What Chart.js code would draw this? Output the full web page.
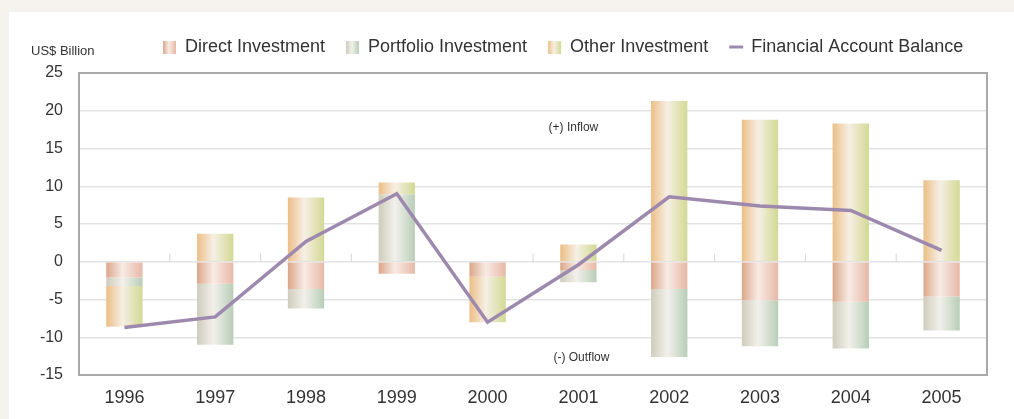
<!DOCTYPE html>
<html>
<head>
<meta charset="utf-8">
<script src="https://cdn.jsdelivr.net/npm/chart.js@4/dist/chart.umd.min.js"></script>
<style>
    html, body { margin: 0; padding: 0; background: #f6f3ee; }
    .panel { position: absolute; left: 9px; top: 12px; width: 1005px; height: 407px; background: #fff; }
</style>
</head>
<body>
<div class="panel"><canvas id="chartCuentaFinanciera"></canvas></div>
<script>
const anios = ["1996", "1997", "1998", "1999", "2000", "2001", "2002", "2003", "2004", "2005"];
const inversionDirecta = [-2.1, -2.9, -3.6, -1.6, -2.0, -1.1, -3.6, -5.1, -5.3, -4.6];
const inversionCartera = [-1.1, -8.1, -2.6, 8.9, 0, -1.6, -9.0, -6.1, -6.2, -4.5];
const otraInversion = [-5.4, 3.7, 8.5, 1.6, -6.0, 2.3, 21.3, 18.8, 18.3, 10.8];
const balanceCuenta = [-8.7, -7.3, 2.7, 9.0, -8.0, -0.4, 8.6, 7.4, 6.8, 1.5];
const ticksY = [25, 20, 15, 10, 5, 0, -5, -10, -15];

const FUENTE = '"Liberation Sans", Arial, sans-serif';
const ANCHO_BARRA = 0.4;

// degradados horizontales de cada serie: izquierda, centro, derecha
const degradados = {
    directa: ["#dca689", "#f7ebe5", "#e8b8a6"],
    cartera: ["#cfccbc", "#f2f0ea", "#b8ceb8"],
    otra: ["#ecbe86", "#f6efe5", "#d2d993"]
};
const colorLinea = "#9d89ad";

function rellenoBarra(stops) {
    return (c) => {
        const chart = c.chart;
        const xs = chart.scales.x;
        if (!xs || c.dataIndex === undefined) return stops[1];
        const cx = xs.getPixelForValue(c.dataIndex);
        const mitad = xs.width / anios.length * ANCHO_BARRA / 2;
        // la escala aun no tiene medidas en la primera pasada
        if (!isFinite(cx) || !isFinite(mitad) || mitad <= 0) return stops[1];
        const g = chart.ctx.createLinearGradient(cx - mitad, 0, cx + mitad, 0);
        g.addColorStop(0, stops[0]);
        g.addColorStop(0.45, stops[1]);
        g.addColorStop(1, stops[2]);
        return g;
    };
}

// marco del area, marcas sobre el cero y textos de flujo
const pluginMarco = {
    id: "marco",
    beforeDatasetsDraw(chart) {
        const { ctx, chartArea: a, scales } = chart;
        ctx.save();
        ctx.strokeStyle = "#d6d6d6";
        ctx.lineWidth = 1;
        const y0 = scales.y.getPixelForValue(0);
        for (let i = 1; i < anios.length; i++) {
            const x = (scales.x.getPixelForValue(i - 1) + scales.x.getPixelForValue(i)) / 2;
            ctx.beginPath();
            ctx.moveTo(x, y0 - 8);
            ctx.lineTo(x, y0);
            ctx.stroke();
        }
        ctx.strokeStyle = "#a9a9a9";
        ctx.lineWidth = 2;
        ctx.strokeRect(a.left, a.top, a.right - a.left, a.bottom - a.top);

        ctx.fillStyle = "#333";
        ctx.font = "12px " + FUENTE;
        ctx.textAlign = "center";
        ctx.textBaseline = "middle";
        const xm = scales.x.getPixelForValue(5);
        ctx.fillText("(+) Inflow", xm - 5, scales.y.getPixelForValue(17.8));
        ctx.fillText("(-) Outflow", xm + 3, scales.y.getPixelForValue(-12.7));
        ctx.restore();
    }
};

// leyenda dibujada a mano para poder usar los degradados en los cuadros
const pluginLeyenda = {
    id: "leyendaPropia",
    afterDraw(chart) {
        const ctx = chart.ctx;
        ctx.save();
        ctx.fillStyle = "#333";
        ctx.font = "13px " + FUENTE;
        ctx.textAlign = "left";
        ctx.textBaseline = "middle";
        ctx.fillText("US$ Billion", 22, 39);

        const items = [
            { texto: "Direct Investment", stops: degradados.directa },
            { texto: "Portfolio Investment", stops: degradados.cartera },
            { texto: "Other Investment", stops: degradados.otra },
            { texto: "Financial Account Balance", linea: true }
        ];
        ctx.font = "18px " + FUENTE;
        let x = 154;
        const yc = 35;
        items.forEach(it => {
            if (it.linea) {
                ctx.strokeStyle = colorLinea;
                ctx.lineWidth = 3;
                ctx.beginPath();
                ctx.moveTo(x, yc);
                ctx.lineTo(x + 14, yc);
                ctx.stroke();
                x += 22;
            } else {
                const g = ctx.createLinearGradient(x, 0, x + 13, 0);
                g.addColorStop(0, it.stops[0]);
                g.addColorStop(0.45, it.stops[1]);
                g.addColorStop(1, it.stops[2]);
                ctx.fillStyle = g;
                ctx.fillRect(x, yc - 6, 13, 13);
                x += 22;
            }
            ctx.fillStyle = "#333";
            ctx.fillText(it.texto, x, yc);
            x += ctx.measureText(it.texto).width + 21;
        });
        ctx.restore();
    }
};

const datasetBarra = (label, data, stops) => ({
    type: "bar",
    label,
    data,
    stack: "flujos",
    order: 1,
    backgroundColor: rellenoBarra(stops),
    borderWidth: 0,
    barPercentage: ANCHO_BARRA,
    categoryPercentage: 1.0
});

const ctx = document.getElementById("chartCuentaFinanciera").getContext("2d");

new Chart(ctx, {
    data: {
        labels: anios,
        datasets: [
            datasetBarra("Direct Investment", inversionDirecta, degradados.directa),
            datasetBarra("Portfolio Investment", inversionCartera, degradados.cartera),
            datasetBarra("Other Investment", otraInversion, degradados.otra),
            {
                type: "line",
                label: "Financial Account Balance",
                data: balanceCuenta,
                stack: "balance",
                order: 0,
                borderColor: colorLinea,
                borderWidth: 3.5,
                pointRadius: 0,
                tension: 0,
                fill: false
            }
        ]
    },
    options: {
        responsive: true,
        maintainAspectRatio: false,
        animation: false,
        layout: { padding: { top: 61, right: 27, left: 0, bottom: 0 } },
        plugins: {
            legend: { display: false },
            tooltip: { enabled: false }
        },
        scales: {
            x: {
                stacked: true,
                afterFit: (s) => { s.height = 44; },
                grid: { display: false, drawTicks: false },
                border: { color: "#a9a9a9", width: 2 },
                ticks: { color: "#333", font: { family: FUENTE, size: 18 }, padding: 12, maxRotation: 0 }
            },
            y: {
                stacked: true,
                min: -15,
                max: 25,
                afterFit: (s) => { s.width = 70; },
                afterBuildTicks: (s) => { s.ticks = ticksY.map(v => ({ value: v })); },
                grid: { color: "#e3e3e3", lineWidth: 1.5, drawTicks: false },
                border: { color: "#a9a9a9", width: 2 },
                ticks: { color: "#333", font: { family: FUENTE, size: 16 }, padding: 16 }
            }
        }
    },
    plugins: [pluginMarco, pluginLeyenda]
});
</script>
</body>
</html>
